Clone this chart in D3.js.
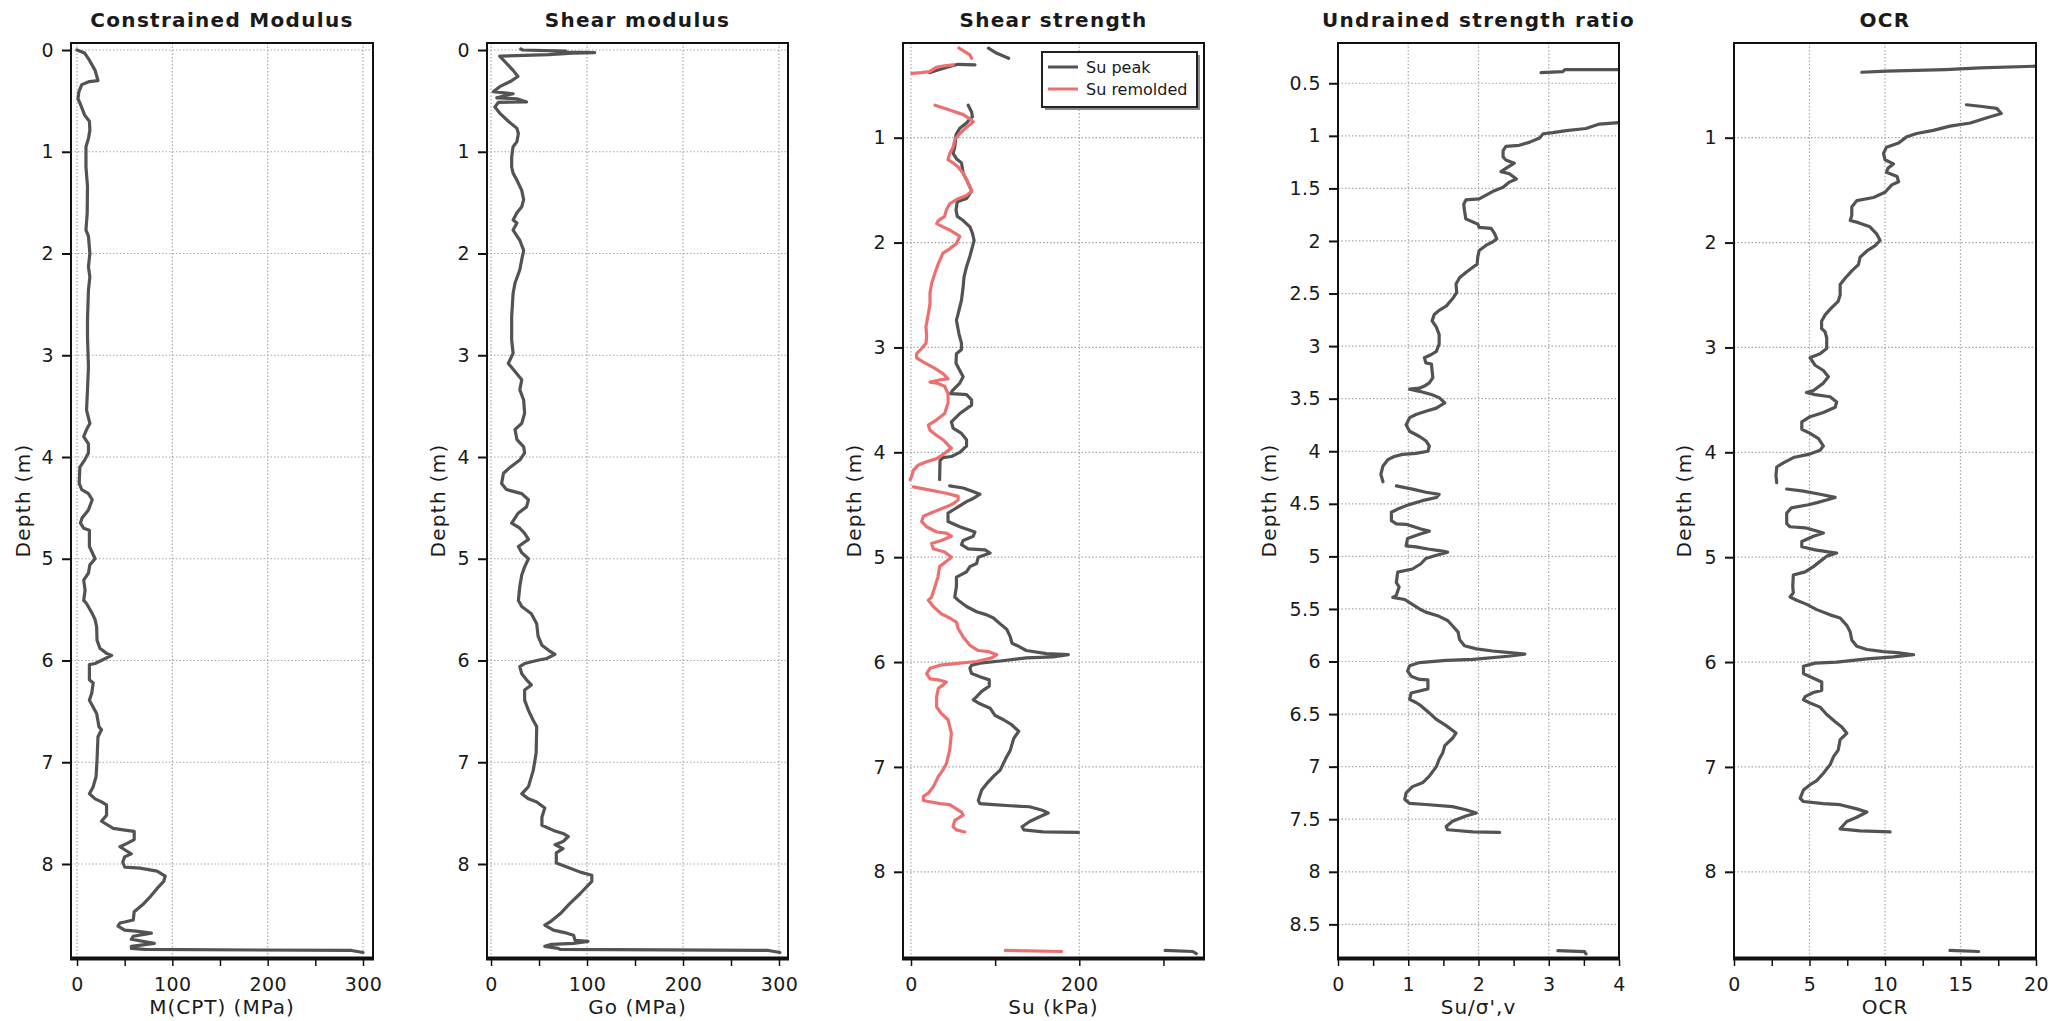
<!DOCTYPE html>
<html>
<head>
<meta charset="utf-8">
<script src="https://cdn.jsdelivr.net/npm/d3@7"></script>
<style>
  html, body { margin: 0; padding: 0; background: #ffffff; }
  svg { display: block; }
  text { font-family: "DejaVu Sans", Verdana, sans-serif; fill: #1a1a1a; }
</style>
</head>
<body>
<svg id="chart" width="2069" height="1021"></svg>
<script>
// CPT-derived soil profiles: [depth (m), value]; null value marks a gap in the trace.

const mCpt = [[0,0],[0.03,8],[0.1,13],[0.2,19],[0.3,22],[0.31,13],[0.34,5],[0.41,2],[0.48,1],[0.52,3],[0.59,6],[0.64,8],[0.70,13],[0.79,13.5],[0.87,12],[0.95,9.4],[1.15,9.4],[1.34,11],[1.6,10.7],[1.77,9.4],[1.83,12],[2.0,13.5],[2.13,12],[2.23,13.5],[2.36,12],[2.65,11],[2.82,11],[3.11,12],[3.34,11],[3.54,10],[3.67,13.5],[3.73,10],[3.80,7],[3.87,12],[3.96,12],[4.03,8],[4.1,3],[4.26,2.3],[4.32,5],[4.36,12],[4.42,16],[4.52,12],[4.6,5.3],[4.65,3.6],[4.70,7],[4.72,13],[4.88,13],[5.0,19],[5.06,13.5],[5.14,12],[5.21,7],[5.31,8.5],[5.41,7],[5.44,10],[5.53,15.5],[5.60,19],[5.67,20.6],[5.80,21],[5.88,24],[5.93,31],[5.95,36.4],[5.99,27.6],[6.03,19],[6.04,13],[6.19,13],[6.22,17],[6.32,15.5],[6.39,13],[6.52,20.6],[6.65,23],[6.68,25.7],[6.75,22],[6.98,21],[7.14,20],[7.24,17],[7.31,13],[7.36,19],[7.39,25.7],[7.42,31],[7.52,31],[7.58,25.7],[7.65,38],[7.67,52],[7.68,60],[7.76,60],[7.80,52],[7.83,45],[7.86,50],[7.90,57],[7.93,50],[7.98,48],[8.03,50],[8.04,66],[8.07,84],[8.12,92.5],[8.17,91],[8.24,84],[8.32,77],[8.39,70],[8.47,60],[8.55,59],[8.57,50],[8.58,45],[8.61,43],[8.65,50],[8.66,62],[8.68,78],[8.71,59],[8.74,57],[8.78,81],[8.81,57],[8.83,57],[8.84,71],[8.85,288],[8.87,300]];

const goShear = [[-0.01,31],[0.0,33],[0.01,78],[0.02,70],[0.025,108],[0.03,85],[0.045,60],[0.06,9],[0.13,16],[0.2,23],[0.26,28],[0.31,20],[0.36,9],[0.41,2.4],[0.43,23],[0.45,14],[0.47,6],[0.48,27],[0.51,37],[0.515,7.6],[0.56,4],[0.62,9],[0.70,18],[0.77,27],[0.82,28.5],[0.9,27],[0.95,23],[1.05,21.5],[1.15,21.5],[1.21,23],[1.28,27],[1.38,32],[1.47,34],[1.54,32],[1.6,27],[1.67,23],[1.70,27],[1.77,23],[1.87,30],[1.97,34],[2.06,32],[2.16,30],[2.29,25],[2.39,23],[2.62,21.5],[2.85,21.5],[2.98,23],[3.08,18],[3.16,25],[3.24,32],[3.34,30],[3.44,34],[3.57,35],[3.67,32],[3.73,25],[3.83,27],[3.90,34],[3.96,35],[4.03,30],[4.1,20],[4.16,13],[4.26,11],[4.32,16],[4.36,32],[4.42,39],[4.49,37],[4.55,28.5],[4.65,21.5],[4.70,30],[4.75,35],[4.81,39],[4.88,28.5],[4.94,32],[5.0,39],[5.08,35],[5.16,32],[5.27,30],[5.41,28.5],[5.47,32],[5.54,42],[5.64,47.6],[5.76,49],[5.85,53],[5.90,60],[5.94,66.6],[5.98,58],[6.0,47.6],[6.03,35],[6.06,30],[6.13,32],[6.19,37],[6.24,42],[6.29,35],[6.39,35],[6.49,39],[6.59,44],[6.65,47.6],[6.91,47],[7.08,44],[7.24,39],[7.31,32],[7.36,39],[7.39,47.6],[7.45,56],[7.54,53],[7.62,53],[7.67,65],[7.70,75],[7.73,80.5],[7.78,75],[7.81,66.7],[7.85,75],[7.89,68],[7.99,68],[8.03,79],[8.08,93],[8.11,105],[8.17,105],[8.29,93],[8.39,82],[8.49,72],[8.57,61.5],[8.60,56],[8.65,65],[8.68,79],[8.70,86],[8.75,87.5],[8.76,101],[8.78,86],[8.79,63],[8.81,56],[8.83,70],[8.84,72],[8.85,289],[8.87,301]];

const suPeak = [[0.147,92],[0.195,102],[0.243,116],[0.25,null],
  [0.38,22],[0.36,30],[0.32,46],[0.30,56],[0.305,76],[0.31,null],
  [0.69,68],[0.755,72],[0.80,73],[0.84,68],[0.86,66],[0.91,58],[0.97,53.5],[1.09,52],[1.15,50],[1.20,54],[1.24,60],[1.34,62],[1.40,66],[1.47,70],[1.51,72],[1.58,66],[1.61,55],[1.69,53.5],[1.75,55],[1.79,62],[1.85,70],[1.91,73],[1.98,75],[2.04,73],[2.13,70],[2.23,66],[2.33,63],[2.42,62],[2.55,60],[2.68,56],[2.74,54],[2.87,57],[2.96,60],[3.02,60],[3.06,54],[3.15,53.5],[3.22,58],[3.28,62],[3.34,58],[3.41,49.5],[3.44,47],[3.445,58],[3.45,66],[3.50,72],[3.55,72],[3.63,58],[3.71,48],[3.77,50],[3.82,60],[3.88,66],[3.94,66],[4.00,58],[4.04,48],[4.05,38],[4.08,34.5],[4.26,34],[4.27,null],
  [4.32,46],[4.34,62],[4.37,72],[4.40,82],[4.44,74],[4.47,66],[4.52,56],[4.55,50],[4.58,44],[4.66,44],[4.71,58],[4.76,76],[4.80,74],[4.84,62],[4.88,60],[4.92,68],[4.93,88],[4.96,94],[5.0,80],[5.06,78],[5.09,70],[5.14,66],[5.19,54],[5.28,54],[5.38,52],[5.41,56],[5.47,66],[5.52,78],[5.55,90],[5.58,98],[5.65,108],[5.69,114],[5.76,118],[5.82,120],[5.85,128],[5.89,137],[5.92,161],[5.93,187],[5.95,169],[5.96,137],[5.99,106],[6.01,82],[6.03,72],[6.06,70],[6.11,72],[6.14,82],[6.17,93],[6.23,93],[6.28,84],[6.33,78],[6.36,74],[6.39,80],[6.44,94],[6.51,100],[6.55,110],[6.60,120],[6.66,128],[6.73,122],[6.84,118],[6.93,112],[7.03,106],[7.09,98],[7.16,90],[7.22,84],[7.32,80],[7.35,82],[7.36,98],[7.37,118],[7.38,141],[7.41,155],[7.44,163],[7.475,153],[7.52,141],[7.57,132],[7.60,134],[7.62,157],[7.625,199],[7.63,null],
  [8.75,302],[8.76,335],[8.78,339]];

const suRemolded = [[0.145,57],[0.17,62],[0.21,70],[0.243,72],[0.25,null],
  [0.305,50],[0.316,38],[0.33,30],[0.37,22],[0.38,12],[0.386,1],[0.39,null],
  [0.69,28.6],[0.736,46],[0.78,62],[0.82,70],[0.85,74],[0.90,66],[0.96,58],[1.02,52],[1.09,50],[1.15,46],[1.21,44],[1.24,50],[1.28,56],[1.34,62],[1.40,66],[1.47,70],[1.51,72],[1.55,66],[1.59,54],[1.63,46],[1.69,42],[1.75,40],[1.79,32.5],[1.82,30.5],[1.85,38],[1.88,46],[1.91,52],[1.94,58],[2.01,54],[2.06,46],[2.10,38],[2.20,32.5],[2.29,28.5],[2.39,24.5],[2.48,22.6],[2.58,22.6],[2.68,20.6],[2.80,17.8],[2.90,18.6],[2.96,17.8],[3.01,12.7],[3.06,6.7],[3.10,6.7],[3.14,14.7],[3.20,28.5],[3.25,38],[3.30,44],[3.31,34],[3.33,22.6],[3.34,30.5],[3.37,40],[3.44,44],[3.53,44],[3.63,40],[3.69,30.5],[3.74,20.6],[3.79,22.6],[3.84,30.5],[3.88,38],[3.93,44],[3.96,48],[4.01,40],[4.06,30.5],[4.09,18.6],[4.12,8.7],[4.17,3],[4.23,0.8],[4.26,-1],[4.27,null],
  [4.33,3],[4.36,22.6],[4.39,42],[4.42,56],[4.455,56],[4.49,50],[4.52,42],[4.57,26.5],[4.61,14.7],[4.66,12.7],[4.71,18.6],[4.76,30.5],[4.77,42],[4.80,48],[4.84,36],[4.87,24.5],[4.92,26.5],[4.95,40],[5.0,48],[5.04,42],[5.09,34],[5.19,32],[5.28,28.5],[5.38,24.5],[5.41,20.6],[5.47,26.5],[5.54,36],[5.58,46],[5.62,54],[5.68,56],[5.76,62],[5.84,70],[5.89,80],[5.90,92],[5.93,102],[5.96,96],[5.995,78],[6.01,58],[6.03,34.5],[6.06,22.6],[6.11,18.6],[6.16,22.6],[6.17,32.5],[6.19,42],[6.22,38],[6.25,32.5],[6.33,30.5],[6.43,30.5],[6.49,36],[6.55,44],[6.68,48],[6.84,46],[6.97,42],[7.03,38],[7.09,32.5],[7.19,26.5],[7.25,20.6],[7.28,14.7],[7.32,14.7],[7.33,20.6],[7.35,34.5],[7.36,46],[7.40,54],[7.43,60],[7.46,62],[7.51,52],[7.57,50],[7.60,54],[7.62,64],[7.63,null],
  [8.75,112],[8.76,179]];

const suRatio = [[0.398,2.89],[0.39,3.20],[0.37,3.23],[0.37,4.0],[0.38,null],
  [0.875,4.0],[0.888,3.72],[0.93,3.53],[0.95,3.25],[0.97,3.06],[0.98,2.92],[1.02,2.87],[1.06,2.73],[1.09,2.58],[1.10,2.39],[1.14,2.35],[1.20,2.35],[1.23,2.39],[1.26,2.51],[1.31,2.39],[1.34,2.32],[1.36,2.44],[1.41,2.54],[1.44,2.44],[1.49,2.35],[1.53,2.20],[1.60,2.01],[1.61,1.82],[1.65,1.79],[1.71,1.80],[1.79,1.82],[1.82,1.92],[1.84,1.99],[1.87,2.01],[1.88,2.18],[1.93,2.23],[1.98,2.26],[2.01,2.20],[2.04,2.11],[2.09,2.01],[2.15,1.99],[2.22,1.98],[2.25,1.92],[2.30,1.82],[2.35,1.73],[2.41,1.68],[2.49,1.69],[2.55,1.63],[2.62,1.54],[2.66,1.44],[2.70,1.37],[2.76,1.34],[2.82,1.40],[2.89,1.44],[2.98,1.44],[3.05,1.40],[3.08,1.33],[3.11,1.23],[3.16,1.25],[3.17,1.33],[3.24,1.34],[3.30,1.35],[3.35,1.30],[3.38,1.23],[3.40,1.16],[3.41,1.02],[3.43,1.16],[3.46,1.33],[3.49,1.44],[3.54,1.52],[3.59,1.40],[3.62,1.25],[3.65,1.11],[3.68,1.02],[3.75,0.97],[3.81,1.02],[3.86,1.16],[3.90,1.25],[3.95,1.30],[4.0,1.28],[4.02,1.11],[4.03,0.92],[4.05,0.80],[4.08,0.71],[4.14,0.64],[4.22,0.61],[4.29,0.64],[4.30,null],
  [4.33,0.83],[4.36,1.06],[4.39,1.25],[4.41,1.44],[4.44,1.40],[4.47,1.20],[4.51,1.0],[4.55,0.85],[4.58,0.76],[4.66,0.76],[4.69,0.83],[4.695,0.97],[4.74,1.18],[4.76,1.30],[4.79,1.16],[4.83,0.99],[4.90,0.97],[4.91,1.11],[4.93,1.28],[4.945,1.44],[4.96,1.56],[4.99,1.40],[5.02,1.25],[5.07,1.18],[5.12,1.06],[5.15,0.85],[5.25,0.83],[5.29,0.87],[5.37,0.83],[5.39,0.78],[5.41,0.95],[5.44,1.02],[5.50,1.16],[5.53,1.25],[5.57,1.44],[5.61,1.56],[5.66,1.63],[5.72,1.71],[5.79,1.73],[5.85,1.80],[5.88,1.97],[5.90,2.20],[5.91,2.37],[5.93,2.66],[5.95,2.42],[5.98,1.92],[5.99,1.54],[6.01,1.16],[6.04,1.02],[6.09,0.99],[6.14,1.04],[6.17,1.16],[6.175,1.28],[6.26,1.28],[6.28,1.16],[6.30,1.04],[6.36,1.02],[6.39,1.11],[6.42,1.18],[6.49,1.30],[6.55,1.40],[6.61,1.54],[6.68,1.68],[6.73,1.63],[6.80,1.52],[6.87,1.49],[6.93,1.44],[7.0,1.40],[7.09,1.30],[7.15,1.21],[7.19,1.06],[7.25,0.97],[7.31,0.95],[7.35,1.02],[7.36,1.25],[7.38,1.63],[7.41,1.82],[7.44,1.97],[7.47,1.82],[7.52,1.63],[7.57,1.54],[7.60,1.56],[7.62,1.92],[7.625,2.30],[7.63,null],
  [8.75,3.13],[8.76,3.51],[8.78,3.53]];

const ocr = [[0.376,8.46],[0.366,10.1],[0.35,14.0],[0.334,16.3],[0.318,20],[0.32,null],
  [0.686,15.4],[0.70,16.3],[0.72,17.4],[0.77,17.7],[0.81,16.75],[0.86,15.65],[0.89,14.3],[0.93,13.2],[0.96,12.1],[0.99,11.45],[1.05,10.9],[1.09,10.1],[1.15,9.9],[1.21,10.0],[1.25,10.56],[1.29,10.2],[1.33,10.1],[1.37,10.8],[1.42,10.9],[1.45,10.45],[1.52,10.0],[1.57,9.24],[1.60,8.13],[1.66,7.8],[1.74,7.8],[1.79,7.7],[1.81,8.24],[1.85,9.0],[1.92,9.46],[1.98,9.68],[2.03,9.35],[2.08,8.8],[2.14,8.35],[2.21,8.24],[2.27,7.8],[2.34,7.36],[2.40,7.03],[2.50,7.03],[2.56,6.9],[2.62,6.47],[2.69,6.03],[2.75,5.8],[2.82,5.8],[2.85,6.03],[2.91,6.14],[3.01,6.14],[3.06,5.7],[3.09,5.15],[3.10,5.04],[3.17,5.37],[3.22,5.92],[3.28,6.25],[3.34,5.92],[3.41,5.26],[3.43,4.8],[3.45,5.37],[3.47,6.36],[3.52,6.8],[3.57,6.7],[3.62,5.92],[3.66,5.04],[3.71,4.49],[3.78,4.49],[3.82,5.04],[3.87,5.6],[3.94,5.92],[3.98,5.7],[4.02,4.93],[4.05,3.93],[4.10,3.27],[4.14,2.83],[4.22,2.78],[4.29,2.83],[4.30,null],
  [4.35,3.49],[4.37,4.6],[4.40,5.7],[4.43,6.7],[4.45,6.25],[4.48,5.5],[4.50,4.93],[4.53,3.8],[4.58,3.49],[4.68,3.49],[4.71,3.71],[4.72,4.71],[4.75,5.48],[4.77,5.92],[4.80,5.26],[4.85,4.49],[4.90,4.49],[4.93,5.37],[4.95,6.25],[4.96,6.8],[4.99,6.14],[5.04,5.7],[5.09,5.26],[5.14,4.71],[5.17,3.93],[5.28,3.89],[5.34,3.93],[5.38,3.71],[5.41,4.15],[5.45,4.82],[5.50,5.48],[5.55,6.36],[5.58,7.03],[5.65,7.47],[5.71,7.69],[5.79,7.8],[5.85,8.13],[5.88,8.8],[5.90,9.9],[5.91,10.8],[5.93,11.9],[5.95,10.56],[5.97,8.8],[6.0,6.8],[6.01,5.37],[6.04,4.6],[6.11,4.6],[6.14,5.04],[6.19,5.81],[6.27,5.81],[6.29,5.26],[6.33,4.71],[6.36,4.6],[6.39,5.04],[6.43,5.7],[6.50,6.14],[6.57,6.7],[6.62,7.14],[6.68,7.47],[6.74,7.03],[6.84,6.9],[6.90,6.6],[6.98,6.36],[7.06,5.92],[7.13,5.48],[7.17,5.04],[7.22,4.6],[7.30,4.38],[7.33,4.6],[7.35,5.92],[7.36,7.03],[7.40,8.13],[7.43,8.8],[7.48,8.13],[7.52,7.47],[7.59,7.03],[7.61,8.35],[7.62,10.34],[7.63,null],
  [8.75,14.3],[8.76,16.2]];

// Axis tick values
const depthTicksWhole = [0, 1, 2, 3, 4, 5, 6, 7, 8];
const depthTicksFrom1 = [1, 2, 3, 4, 5, 6, 7, 8];
const depthTicksHalf = [0.5, 1, 1.5, 2, 2.5, 3, 3.5, 4, 4.5, 5, 5.5, 6, 6.5, 7, 7.5, 8, 8.5];
const modulusTicks = [0, 50, 100, 150, 200, 250, 300];
const modulusLabels = [0, 100, 200, 300];
const strengthTicks = [0, 100, 200, 300];
const strengthLabels = [0, 200];
const ratioTicks = [0, 0.5, 1, 1.5, 2, 2.5, 3, 3.5, 4];
const ratioLabels = [0, 1, 2, 3, 4];
const ocrTicks = [0, 2.5, 5, 7.5, 10, 12.5, 15, 17.5, 20];
const ocrLabels = [0, 5, 10, 15, 20];

const legendNames = ["Su peak", "Su remolded"];

// ---------------------------------------------------------------------------
const DARK = "#535353";
const RED = "#ec7070";
const TOP = 43, BOTTOM = 958;

const panels = [
  { title: "Constrained Modulus", xLabel: "M(CPT) (MPa)", x0: 71, x1: 373,
    xDomain: [-6.3, 310.5], yDomain: [-0.069, 8.924],
    xTicks: modulusTicks, xLabels: modulusLabels, yTicks: depthTicksWhole, depthOffset: 48,
    series: [{ data: mCpt, color: DARK }] },
  { title: "Shear modulus", xLabel: "Go (MPa)", x0: 487, x1: 788,
    xDomain: [-4.2, 309.4], yDomain: [-0.069, 8.924],
    xTicks: modulusTicks, xLabels: modulusLabels, yTicks: depthTicksWhole, depthOffset: 49,
    series: [{ data: goShear, color: DARK }] },
  { title: "Shear strength", xLabel: "Su (kPa)", x0: 903, x1: 1204,
    xDomain: [-9.5, 348.2], yDomain: [0.097, 8.822],
    xTicks: strengthTicks, xLabels: strengthLabels, yTicks: depthTicksFrom1, depthOffset: 49,
    series: [{ data: suPeak, color: DARK }, { data: suRemolded, color: RED }],
    legend: true },
  { title: "Undrained strength ratio", xLabel: "Su/σ',v", x0: 1338, x1: 1619,
    xDomain: [0, 4], yDomain: [0.117, 8.82],
    xTicks: ratioTicks, xLabels: ratioLabels, yTicks: depthTicksHalf, depthOffset: 69,
    series: [{ data: suRatio, color: DARK }] },
  { title: "OCR", xLabel: "OCR", x0: 1734, x1: 2036,
    xDomain: [0, 20], yDomain: [0.097, 8.822],
    xTicks: ocrTicks, xLabels: ocrLabels, yTicks: depthTicksFrom1, depthOffset: 50,
    series: [{ data: ocr, color: DARK }] }
];

const svg = d3.select("#chart");
const defs = svg.append("defs");

panels.forEach((p, i) => {
  const x = d3.scaleLinear().domain(p.xDomain).range([p.x0, p.x1]);
  const y = d3.scaleLinear().domain(p.yDomain).range([TOP, BOTTOM]);
  const g = svg.append("g").attr("class", "panel");
  const cx = (p.x0 + p.x1) / 2;

  // clip region for the traces
  defs.append("clipPath").attr("id", "clip" + i)
    .append("rect").attr("x", p.x0).attr("y", TOP)
    .attr("width", p.x1 - p.x0).attr("height", BOTTOM - TOP);

  // dotted grid
  const grid = g.append("g").attr("stroke", "#a8a8a8").attr("stroke-width", 1.2)
    .attr("stroke-dasharray", "1.5,2");
  p.xLabels.filter(v => x(v) > p.x0 + 1 && x(v) < p.x1 - 1).forEach(v => {
    grid.append("line").attr("x1", x(v)).attr("x2", x(v))
      .attr("y1", TOP).attr("y2", BOTTOM);
  });
  p.yTicks.forEach(v => {
    grid.append("line").attr("x1", p.x0).attr("x2", p.x1)
      .attr("y1", y(v)).attr("y2", y(v));
  });

  // traces
  const line = d3.line()
    .defined(d => d[1] !== null)
    .x(d => x(d[1]))
    .y(d => y(d[0]));
  const traces = g.append("g").attr("clip-path", `url(#clip${i})`);
  p.series.forEach(s => {
    traces.append("path").datum(s.data)
      .attr("d", line)
      .attr("fill", "none")
      .attr("stroke", s.color)
      .attr("stroke-width", 3.2)
      .attr("stroke-linejoin", "round")
      .attr("stroke-linecap", "round");
  });

  // frame
  g.append("rect").attr("x", p.x0).attr("y", TOP)
    .attr("width", p.x1 - p.x0).attr("height", BOTTOM - TOP)
    .attr("fill", "none").attr("stroke", "#111").attr("stroke-width", 2);
  g.append("line").attr("x1", p.x0 - 1).attr("x2", p.x1 + 1)
    .attr("y1", BOTTOM + 0.5).attr("y2", BOTTOM + 0.5)
    .attr("stroke", "#111").attr("stroke-width", 4);

  // bottom axis
  const xAxis = d3.axisBottom(x)
    .tickValues(p.xTicks)
    .tickSize(6)
    .tickPadding(12)
    .tickFormat(v => p.xLabels.includes(v) ? String(v) : "");
  const xa = g.append("g").attr("transform", `translate(0,${BOTTOM + 2})`).call(xAxis);
  xa.select(".domain").remove();
  xa.selectAll("line").attr("stroke", "#111").attr("stroke-width", 1.5);
  xa.selectAll("text").attr("font-size", 19).attr("letter-spacing", "0.4px")
    .attr("font-family", "DejaVu Sans").attr("fill", "#1a1a1a");

  // left axis
  const yAxis = d3.axisLeft(y)
    .tickValues(p.yTicks)
    .tickSize(9)
    .tickPadding(8)
    .tickFormat(v => String(v));
  const ya = g.append("g").attr("transform", `translate(${p.x0},0)`).call(yAxis);
  ya.select(".domain").remove();
  ya.selectAll("line").attr("stroke", "#111").attr("stroke-width", 2);
  ya.selectAll("text").attr("font-size", 19).attr("letter-spacing", "0.4px")
    .attr("font-family", "DejaVu Sans").attr("fill", "#1a1a1a");

  // titles
  g.append("text").attr("x", cx).attr("y", 27)
    .attr("text-anchor", "middle").attr("font-size", 20).attr("font-weight", "bold")
    .attr("letter-spacing", "1.3px").text(p.title);
  g.append("text").attr("x", cx).attr("y", 1014)
    .attr("text-anchor", "middle").attr("font-size", 20)
    .attr("letter-spacing", "1px").text(p.xLabel);
  g.append("text")
    .attr("transform", `translate(${p.x0 - p.depthOffset},${(TOP + BOTTOM) / 2}) rotate(-90)`)
    .attr("text-anchor", "middle").attr("dominant-baseline", "central")
    .attr("font-size", 20).attr("letter-spacing", "1.3px").text("Depth (m)");

  // legend
  if (p.legend) {
    const lx = 1042, ly = 52, lw = 155, lh = 55;
    const lg = g.append("g");
    lg.append("rect").attr("x", lx + 3).attr("y", ly + 3).attr("width", lw).attr("height", lh)
      .attr("fill", "#8a8a8a");
    lg.append("rect").attr("x", lx).attr("y", ly).attr("width", lw).attr("height", lh)
      .attr("fill", "#ffffff").attr("stroke", "#222").attr("stroke-width", 2);
    p.series.forEach((s, k) => {
      const yy = ly + 15 + k * 22;
      lg.append("line").attr("x1", lx + 6).attr("x2", lx + 36)
        .attr("y1", yy).attr("y2", yy)
        .attr("stroke", s.color).attr("stroke-width", 3);
      lg.append("text").attr("x", lx + 44).attr("y", yy)
        .attr("dominant-baseline", "central").attr("font-size", 16)
        .text(legendNames[k]);
    });
  }
});
</script>
</body>
</html>
